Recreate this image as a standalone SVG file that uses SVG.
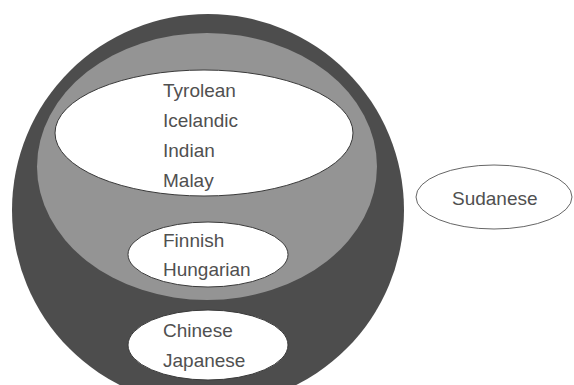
<svg xmlns="http://www.w3.org/2000/svg" width="574" height="385" viewBox="0 0 574 385">
<style>
  .lbl { font-family: "Liberation Sans", Arial, sans-serif; font-size: 19px; fill: #505050; }
  .inner { fill: #ffffff; stroke: #3a3a3a; stroke-width: 1; }
  .free { fill: #ffffff; stroke: #666666; stroke-width: 1; }
</style>
<rect width="574" height="385" fill="#ffffff"/>
<g id="outer">
  <circle cx="208" cy="210" r="196" fill="#4d4d4d"/>
</g>
<g id="middle">
  <ellipse cx="207" cy="166.5" rx="170" ry="133.5" fill="#949494"/>
</g>
<g id="top-group">
  <ellipse class="inner" cx="204" cy="133" rx="149" ry="63"/>
  <text class="lbl" x="163" y="97">Tyrolean</text>
  <text class="lbl" x="163" y="127">Icelandic</text>
  <text class="lbl" x="163" y="157">Indian</text>
  <text class="lbl" x="163" y="187">Malay</text>
</g>
<g id="finno-ugric">
  <ellipse class="inner" cx="208" cy="254.5" rx="80" ry="32.5"/>
  <text class="lbl" x="163" y="247">Finnish</text>
  <text class="lbl" x="163" y="276">Hungarian</text>
</g>
<g id="east-asian">
  <ellipse class="inner" cx="208" cy="345" rx="80" ry="35"/>
  <text class="lbl" x="163" y="337">Chinese</text>
  <text class="lbl" x="163" y="367">Japanese</text>
</g>
<g id="sudanese">
  <ellipse class="free" cx="494" cy="197" rx="78" ry="32"/>
  <text class="lbl" x="452" y="205">Sudanese</text>
</g>
<g id="connectors"></g>
</svg>
